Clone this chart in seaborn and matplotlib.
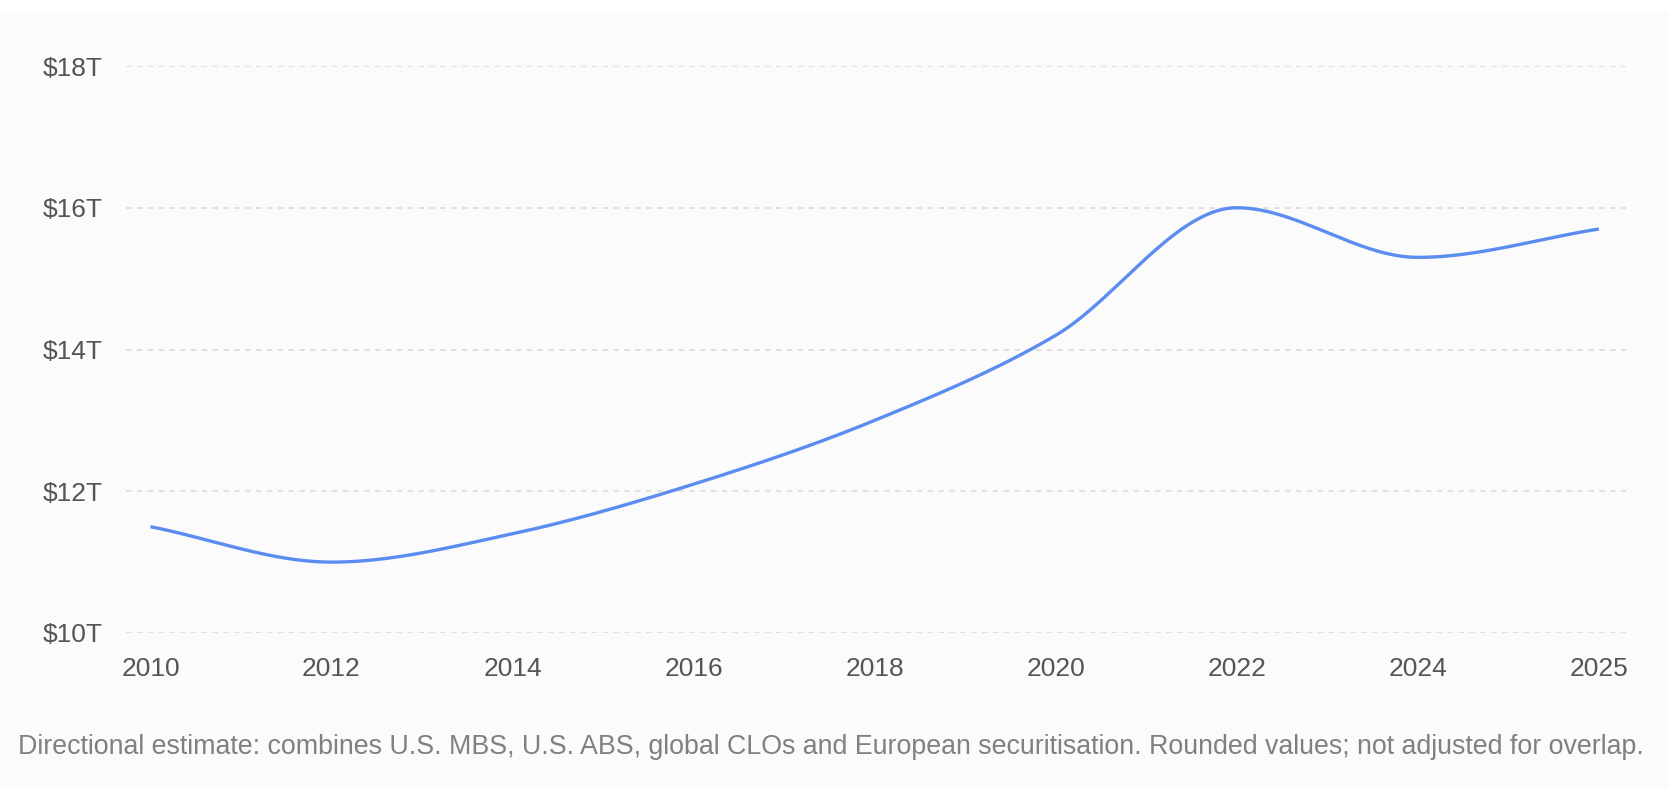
import numpy as np
import pandas as pd
import matplotlib
matplotlib.use("Agg")
import matplotlib.pyplot as plt
from matplotlib.patches import Rectangle
import seaborn as sns

years = ["2010", "2012", "2014", "2016", "2018", "2020", "2022", "2024", "2025"]
values = [11.5, 11.0, 11.4, 12.1, 13.0, 14.2, 16.0, 15.3, 15.7]
y_ticks = [10, 12, 14, 16, 18]
y_tick_labels = ["$10T", "$12T", "$14T", "$16T", "$18T"]
footnote = ("Directional estimate: combines U.S. MBS, U.S. ABS, global CLOs and "
            "European securitisation. Rounded values; not adjusted for overlap.")


def monotone_cubic(x, y, n=60):
    """Chart.js-style monotone cubic interpolation (Fritsch-Carlson)."""
    x = np.asarray(x, float)
    y = np.asarray(y, float)
    h = np.diff(x)
    d = np.diff(y) / h
    m = np.zeros_like(y)
    m[0], m[-1] = d[0], d[-1]
    for i in range(1, len(y) - 1):
        if np.sign(d[i - 1]) != np.sign(d[i]) or d[i - 1] == 0 or d[i] == 0:
            m[i] = 0.0
        else:
            m[i] = (d[i - 1] + d[i]) / 2.0
    for i in range(len(d)):
        if d[i] == 0:
            m[i] = m[i + 1] = 0
            continue
        a, b = m[i] / d[i], m[i + 1] / d[i]
        s = a * a + b * b
        if s > 9:
            t = 3 / np.sqrt(s)
            m[i], m[i + 1] = t * a * d[i], t * b * d[i]
    xs, ys = [], []
    for i in range(len(d)):
        t = np.linspace(0, 1, n, endpoint=(i == len(d) - 1))
        h00 = 2 * t**3 - 3 * t**2 + 1
        h10 = t**3 - 2 * t**2 + t
        h01 = -2 * t**3 + 3 * t**2
        h11 = t**3 - t**2
        xs.append(x[i] + t * h[i])
        ys.append(h00 * y[i] + h10 * h[i] * m[i] + h01 * y[i + 1] + h11 * h[i] * m[i + 1])
    return np.concatenate(xs), np.concatenate(ys)


sns.set_theme(style="white")
plt.rcParams["font.family"] = ["Liberation Sans", "DejaVu Sans"]

fig = plt.figure(figsize=(16.74, 7.98), dpi=100)
fig.patch.set_facecolor("white")
fig.patches.append(Rectangle((0, 1 - 788 / 798), 1668 / 1674, (788 - 12) / 798,
                             transform=fig.transFigure, facecolor="#fbfbfb",
                             edgecolor="none", zorder=-10))

ax = fig.add_axes([126 / 1674, 1 - 633 / 798, (1626 - 126) / 1674, (633 - 66) / 798])
ax.set_facecolor("none")

pos = np.arange(len(years))
sx, sy = monotone_cubic(pos, values)
df = pd.DataFrame({"x": sx, "y": sy})
sns.lineplot(data=df, x="x", y="y", ax=ax, color="#5b8cf0", linewidth=2.4,
             sort=False, solid_capstyle="butt", estimator=None)

ax.set_xlim(-0.135, 8.15)
ax.set_ylim(10, 18)
ax.set_xticks(pos)
ax.set_xticklabels(years)
ax.set_yticks(y_ticks)
ax.set_yticklabels(y_tick_labels)
ax.set_xlabel("")
ax.set_ylabel("")
for sp in ax.spines.values():
    sp.set_visible(False)
ax.grid(axis="y", color="#dedede", linestyle=(0, (3, 3)), linewidth=1.3)
ax.grid(axis="x", visible=False)
ax.tick_params(axis="both", length=0, labelsize=19, labelcolor="#555555")
ax.tick_params(axis="y", pad=17)
ax.tick_params(axis="x", pad=17)

fig.text(18 / 1674, 1 - 747 / 798, footnote, fontsize=19.3, color="#808080",
         ha="left", va="center")

fig.savefig("out.png", dpi=100, facecolor="white")
